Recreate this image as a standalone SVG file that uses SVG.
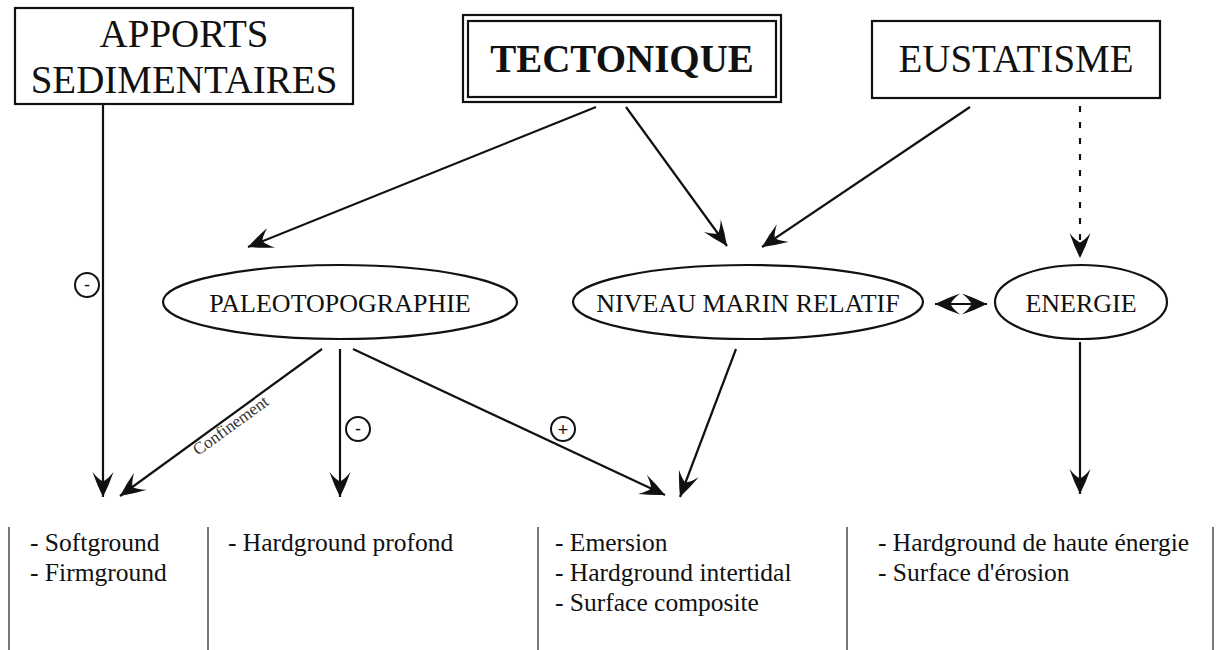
<svg xmlns="http://www.w3.org/2000/svg" width="1218" height="650" viewBox="0 0 1218 650">
<style>
.box{fill:#fff;stroke:#111;stroke-width:2.2}
.ell{fill:#fff;stroke:#111;stroke-width:2.2}
.big{font-family:"Liberation Serif","Times New Roman",serif;font-size:39px;fill:#111;text-anchor:middle}
.bold{font-weight:bold}
.lbl{font-family:"Liberation Serif","Times New Roman",serif;font-size:26px;fill:#111;text-anchor:middle}
.item{font-family:"Liberation Serif","Times New Roman",serif;font-size:25.5px;fill:#111}
.conn{fill:none;stroke:#111;stroke-width:2.2;marker-end:url(#ah)}
.sep{stroke:#555;stroke-width:1.6}
.sym{fill:#fff;stroke:#111;stroke-width:2}
.symt{font-family:"Liberation Sans",Arial,sans-serif;font-size:18px;fill:#111;text-anchor:middle}
.small{font-family:"Liberation Serif","Times New Roman",serif;font-size:17px;fill:#333;text-anchor:middle}
</style>
<defs>
<marker id="ah" viewBox="0 0 26 22" refX="25" refY="11" markerWidth="26" markerHeight="22" markerUnits="userSpaceOnUse" orient="auto-start-reverse">
<path d="M25,11 Q13,5 0,0.5 Q8,7 9.5,11 Q8,15 0,21.5 Q13,17 25,11 Z" fill="#111"/>
</marker>
</defs>
<rect width="1218" height="650" fill="#fff"/>

<g id="apports">
<rect class="box" x="15" y="8" width="338" height="96"/>
<text class="big" x="184" y="47">APPORTS</text>
<text class="big" x="184" y="93">SEDIMENTAIRES</text>
</g>
<g id="tectonique">
<rect class="box" x="463" y="15" width="318" height="87" stroke-width="2.5"/>
<rect class="box" x="468" y="21" width="308" height="76"/>
<text class="big bold" x="622" y="72">TECTONIQUE</text>
</g>
<g id="eustatisme">
<rect class="box" x="872" y="21" width="288" height="77"/>
<text class="big" x="1016" y="72">EUSTATISME</text>
</g>
<g id="paleotopographie">
<ellipse class="ell" cx="340" cy="302" rx="177" ry="37"/>
<text class="lbl" x="340" y="312">PALEOTOPOGRAPHIE</text>
</g>
<g id="niveau">
<ellipse class="ell" cx="748" cy="302" rx="175" ry="37"/>
<text class="lbl" x="748" y="312">NIVEAU MARIN RELATIF</text>
</g>
<g id="energie">
<ellipse class="ell" cx="1081" cy="302" rx="86" ry="37"/>
<text class="lbl" x="1081" y="312">ENERGIE</text>
</g>

<g id="connectors">
<line class="conn" x1="103" y1="104" x2="103" y2="497"/>
<line class="conn" x1="596" y1="107" x2="248" y2="247"/>
<line class="conn" x1="626" y1="107" x2="727" y2="246"/>
<line class="conn" x1="970" y1="107" x2="762" y2="247"/>
<line class="conn" x1="1080" y1="106" x2="1080" y2="258" stroke-dasharray="6 10"/>
<line class="conn" x1="935" y1="304" x2="987" y2="304" marker-start="url(#ah)"/>
<line class="conn" x1="322" y1="349" x2="120" y2="496"/>
<line class="conn" x1="340" y1="349" x2="340" y2="497"/>
<line class="conn" x1="353" y1="349" x2="665" y2="495"/>
<line class="conn" x1="736" y1="349" x2="680" y2="497"/>
<line class="conn" x1="1080" y1="342" x2="1080" y2="494"/>
<text class="small" transform="translate(234,430) rotate(-36)">Confinement</text>
</g>

<g id="signs">
<circle class="sym" cx="87" cy="285" r="12"/>
<text class="symt" x="87" y="291">-</text>
<circle class="sym" cx="358" cy="429" r="12"/>
<text class="symt" x="358" y="435">-</text>
<circle class="sym" cx="563" cy="429" r="12"/>
<text class="symt" x="563" y="435.5">+</text>
</g>

<g id="table">
<line class="sep" x1="9" y1="527" x2="9" y2="650"/>
<line class="sep" x1="208" y1="527" x2="208" y2="650"/>
<line class="sep" x1="538" y1="527" x2="538" y2="650"/>
<line class="sep" x1="847" y1="527" x2="847" y2="650"/>
<line class="sep" x1="1213" y1="527" x2="1213" y2="650"/>
<text class="item" x="30" y="551">- Softground</text>
<text class="item" x="30" y="581">- Firmground</text>
<text class="item" x="228" y="551">- Hardground profond</text>
<text class="item" x="555" y="551">- Emersion</text>
<text class="item" x="555" y="581">- Hardground intertidal</text>
<text class="item" x="555" y="611">- Surface composite</text>
<text class="item" x="878" y="551">- Hardground de haute énergie</text>
<text class="item" x="878" y="581">- Surface d'érosion</text>
</g>
</svg>
